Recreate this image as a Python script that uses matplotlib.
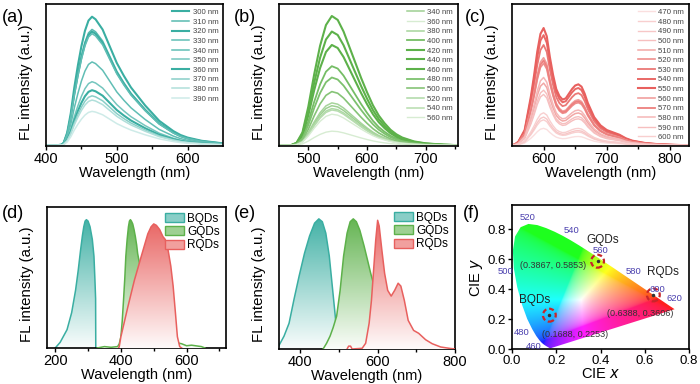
import numpy as np
import matplotlib
matplotlib.use('Agg')
import matplotlib.pyplot as plt
from matplotlib.patches import Polygon, Patch, Ellipse
from matplotlib.colors import to_rgb

plt.rcParams['font.family'] = ['Liberation Sans', 'DejaVu Sans']

# ---------------- data ----------------
# (a) blue emission, shared normalised profile + peak heights
a_wl = [400, 415, 422, 425, 430, 435, 440, 445, 450, 455, 460, 465, 470, 480, 490, 500,
        510, 520, 530, 540, 550, 560, 570, 580, 590, 600, 620, 650]
a_prof = [0.0, 0.0, 0.005, 0.02, 0.1, 0.25, 0.45, 0.62, 0.77, 0.89, 0.97, 1.0, 0.98, 0.9,
          0.77, 0.64, 0.54, 0.45, 0.38, 0.31, 0.25, 0.19, 0.15, 0.11, 0.08, 0.06, 0.035, 0.015]
a_ex = ['300 nm', '310 nm', '320 nm', '330 nm', '340 nm', '350 nm', '360 nm', '370 nm', '380 nm', '390 nm']
a_peak = [0.91, 0.82, 0.805, 0.79, 0.59, 0.45, 0.39, 0.35, 0.32, 0.24]

# (b) green emission
b_wl = [450, 470, 480, 490, 500, 510, 520, 530, 540, 550, 560, 570, 580, 590, 600, 610,
        620, 630, 640, 650, 660, 680, 700, 730, 760]
b_prof = [0.0, 0.0, 0.02, 0.1, 0.3, 0.55, 0.77, 0.93, 1.0, 0.97, 0.88, 0.76, 0.64, 0.52,
          0.41, 0.31, 0.23, 0.17, 0.12, 0.085, 0.06, 0.03, 0.015, 0.005, 0.0]
b_ex = ['340 nm', '360 nm', '380 nm', '400 nm', '420 nm', '440 nm', '460 nm', '480 nm',
        '500 nm', '520 nm', '540 nm', '560 nm']
b_peak = [0.28, 0.10, 0.30, 0.56, 0.71, 0.915, 0.805, 0.48, 0.38, 0.26, 0.25, 0.22]

# (c) red emission
c_wl = [550, 555, 560, 570, 580, 585, 590, 595, 600, 605, 610, 615, 620, 625, 630, 635, 640,
        645, 650, 655, 660, 665, 670, 680, 690, 700, 710, 720, 730, 740, 760, 780, 800, 830]
c_prof = [0.0, 0.01, 0.03, 0.13, 0.42, 0.6, 0.8, 0.95, 1.0, 0.93, 0.75, 0.6, 0.48, 0.42,
          0.39, 0.4, 0.44, 0.48, 0.51, 0.52, 0.5, 0.44, 0.36, 0.24, 0.17, 0.13, 0.11, 0.09,
          0.06, 0.04, 0.02, 0.01, 0.005, 0.0]
c_ex = ['470 nm', '480 nm', '490 nm', '500 nm', '510 nm', '520 nm', '530 nm', '540 nm',
        '550 nm', '560 nm', '570 nm', '580 nm', '590 nm', '600 nm']
c_peak = [0.12, 0.18, 0.20, 0.36, 0.44, 0.58, 0.71, 0.78, 0.83, 0.62, 0.60, 0.48, 0.39, 0.23]

# (d) excitation spectra
d_b_wl = [200, 215, 236, 250, 262, 270, 277, 283, 287, 291, 295, 300, 306, 313, 318, 321, 323, 323.5]
d_b_I = [0, 0.04, 0.13, 0.25, 0.41, 0.55, 0.69, 0.8, 0.86, 0.9, 0.91, 0.9, 0.86, 0.77, 0.65, 0.48, 0.35, 0.0]
d_g_wl = [328, 350, 370, 390, 395, 400, 404, 408, 412, 415, 419, 423, 426, 429, 432, 436, 440,
          444, 448, 451, 455, 459, 470, 490, 520, 550, 575, 585, 600, 615, 630, 645, 656]
d_g_I = [0.0, 0.01, 0.005, 0.01, 0.03, 0.08, 0.19, 0.34, 0.5, 0.65, 0.77, 0.86, 0.9, 0.91, 0.9,
         0.88, 0.84, 0.79, 0.73, 0.67, 0.62, 0.58, 0.45, 0.3, 0.15, 0.06, 0.035, 0.03, 0.016,
         0.02, 0.015, 0.01, 0.0]
d_r_wl = [393, 395, 400, 410, 421, 441, 462, 482, 492, 500, 508, 518, 528, 535, 544, 552, 559,
          566, 572, 579, 585]
d_r_I = [0.0, 0.01, 0.08, 0.18, 0.29, 0.48, 0.65, 0.81, 0.86, 0.88, 0.87, 0.84, 0.79, 0.77,
         0.69, 0.58, 0.44, 0.25, 0.08, 0.01, 0.0]

# (e) emission spectra
e_b_wl = [344, 358, 371, 384, 397, 411, 424, 437, 448, 457, 466, 475, 482, 489, 494, 500]
e_b_I = [0.02, 0.09, 0.18, 0.35, 0.51, 0.67, 0.79, 0.88, 0.91, 0.89, 0.81, 0.65, 0.46, 0.27, 0.13, 0.0]
e_g_wl = [459, 468, 477, 485, 494, 503, 512, 521, 529, 537, 545, 554, 565, 574, 582, 589, 600,
          615, 630, 650, 670]
e_g_I = [0.0, 0.04, 0.09, 0.15, 0.23, 0.41, 0.65, 0.81, 0.89, 0.91, 0.89, 0.83, 0.72, 0.62,
         0.53, 0.46, 0.35, 0.2, 0.1, 0.03, 0.0]
e_r_wl = [521, 525, 530, 534, 560, 569, 578, 584, 589, 595, 600, 604, 611, 618, 626, 635, 644,
          653, 660, 669, 679, 693, 706, 724, 741, 763, 785, 800]
e_r_I = [0.0, 0.02, 0.02, 0.0, 0.005, 0.04, 0.18, 0.34, 0.53, 0.76, 0.9, 0.86, 0.69, 0.53,
         0.41, 0.37, 0.41, 0.46, 0.44, 0.34, 0.2, 0.13, 0.11, 0.065, 0.037, 0.014, 0.005, 0.0]
qd_names = ['BQDs', 'GQDs', 'RQDs']

# (f) CIE 1931 spectral locus and sample points
locus_x = [0.1741, 0.1740, 0.1738, 0.1736, 0.1733, 0.1730, 0.1726, 0.1721, 0.1714, 0.1703,
           0.1689, 0.1669, 0.1644, 0.1611, 0.1566, 0.1510, 0.1440, 0.1355, 0.1241, 0.1096,
           0.0913, 0.0687, 0.0454, 0.0235, 0.0082, 0.0039, 0.0139, 0.0389, 0.0743, 0.1142,
           0.1547, 0.1929, 0.2296, 0.2658, 0.3016, 0.3373, 0.3731, 0.4087, 0.4441, 0.4788,
           0.5125, 0.5448, 0.5752, 0.6029, 0.6270, 0.6482, 0.6658, 0.6801, 0.6915, 0.7006,
           0.7079, 0.7190, 0.7260, 0.7300, 0.7334, 0.7347]
locus_y = [0.0050, 0.0050, 0.0049, 0.0049, 0.0048, 0.0048, 0.0048, 0.0048, 0.0051, 0.0058,
           0.0069, 0.0086, 0.0109, 0.0138, 0.0177, 0.0227, 0.0297, 0.0399, 0.0578, 0.0868,
           0.1327, 0.2007, 0.2950, 0.4127, 0.5384, 0.6548, 0.7502, 0.8120, 0.8338, 0.8262,
           0.8059, 0.7816, 0.7543, 0.7243, 0.6923, 0.6589, 0.6245, 0.5896, 0.5547, 0.5202,
           0.4866, 0.4544, 0.4242, 0.3965, 0.3725, 0.3514, 0.3340, 0.3197, 0.3083, 0.2993,
           0.2920, 0.2809, 0.2740, 0.2700, 0.2666, 0.2653]
wl_labels = ['520', '540', '560', '580', '600', '620', '500', '480', '460']
wl_lab_x = [0.07, 0.27, 0.40, 0.55, 0.655, 0.735, -0.03, 0.045, 0.10]
wl_lab_y = [0.875, 0.79, 0.655, 0.52, 0.40, 0.335, 0.52, 0.11, 0.018]
cie_x = [0.1688, 0.3867, 0.6388]
cie_y = [0.2253, 0.5853, 0.3606]
cie_txt = ['(0.1688, 0.2253)', '(0.3867, 0.5853)', '(0.6388, 0.3606)']
cie_txt_x = [0.285, 0.185, 0.58]
cie_txt_y = [0.095, 0.555, 0.24]
name_x = [0.10, 0.41, 0.68]
name_y = [0.33, 0.73, 0.51]

teal = '#3aaea2'
green = '#5db14a'
red = '#e8605e'


def mix(c, f):
    r = np.array(to_rgb(c))
    return tuple(1 - f * (1 - r))


def add_ax(l, t, r, b):
    return fig.add_axes([l / 700, 1 - b / 384, (r - l) / 700, (b - t) / 384])


def style(ax, xlim, major, minor, ly=0.5):
    ax.set_xlim(*xlim)
    ax.set_xticks(major)
    ax.set_xticks(minor, minor=True)
    ax.set_yticks([])
    ax.tick_params(axis='x', which='major', direction='out', length=3, width=1, labelsize=10.5, pad=1.5)
    ax.tick_params(axis='x', which='minor', direction='out', length=2.5, width=1)
    for s in ax.spines.values():
        s.set_linewidth(1.2)
    ax.set_xlabel('Wavelength (nm)', fontsize=10.5, labelpad=-0.5)
    ax.set_ylabel('FL intensity (a.u.)', fontsize=10.8)
    ax.yaxis.set_label_coords(-0.075, ly)


def line_panel(ax, wl, prof, peaks, names, col, fac, lws):
    for p, n, f, lw in zip(peaks, names, fac, lws):
        ax.plot(wl, np.array(prof) * p, color=mix(col, f), lw=lw, label=n)
    ax.set_ylim(-0.005, 1)
    leg = ax.legend(loc='upper right', fontsize=5.6, frameon=False, handlelength=2.2,
                    labelspacing=0.28, borderaxespad=0.2, handletextpad=0.4)
    for t in leg.get_texts():
        t.set_color('#444444')


def grad_fill(ax, x, y, col, z):
    x = np.array(x, float)
    y = np.array(y, float)
    verts = np.column_stack([np.r_[x[0], x, x[-1]], np.r_[0, y, 0]])
    poly = Polygon(verts, closed=True, facecolor='none', edgecolor='none')
    ax.add_patch(poly)
    f = np.linspace(0.03, 0.95, 200)
    img = np.ones((200, 1, 3)) - f[:, None, None] * (1 - np.array(to_rgb(col)))[None, None, :]
    im = ax.imshow(img, extent=[x.min(), x.max(), 0, y.max()], origin='lower',
                   aspect='auto', zorder=z, interpolation='bilinear')
    im.set_clip_path(poly)
    ax.plot(x, y, color=col, lw=1.1, zorder=z + 0.5)


fig = plt.figure(figsize=(7, 3.84), dpi=100)

# (a)
ax = add_ax(46, 4, 223, 146)
line_panel(ax, a_wl, a_prof, a_peak, a_ex, teal,
           [1.0, 0.85, 1.0, 0.8, 0.8, 0.7, 1.0, 0.6, 0.4, 0.25],
           [1.5, 1.1, 1.5, 1.1, 1.1, 1.1, 1.5, 1.1, 1.1, 1.1])
style(ax, (400, 650), [400, 500, 600], [450, 550], ly=0.45)

# (b)
ax = add_ax(279, 4, 458, 146)
line_panel(ax, b_wl, b_prof, b_peak, b_ex, green,
           [0.6, 0.25, 0.55, 0.85, 1.0, 1.0, 1.0, 0.8, 0.75, 0.5, 0.45, 0.25],
           [1.1, 1.0, 1.1, 1.3, 1.5, 1.5, 1.5, 1.3, 1.2, 1.1, 1.1, 1.0])
style(ax, (450, 755), [500, 600, 700], [550, 650, 750], ly=0.45)

# (c)
ax = add_ax(512, 4, 689, 146)
line_panel(ax, c_wl, c_prof, c_peak, c_ex, red,
           [0.2, 0.3, 0.35, 0.4, 0.55, 0.7, 0.85, 0.95, 1.0, 0.6, 0.8, 0.45, 0.4, 0.3],
           [1.0, 1.0, 1.0, 1.0, 1.1, 1.2, 1.3, 1.4, 1.5, 1.2, 1.3, 1.1, 1.0, 1.0])
style(ax, (550, 830), [600, 700, 800], [650, 750], ly=0.45)

# (d)
ax = add_ax(47, 207, 226, 348)
grad_fill(ax, d_b_wl, d_b_I, teal, 2)
grad_fill(ax, d_g_wl, d_g_I, green, 3)
grad_fill(ax, d_r_wl, d_r_I, red, 4)
ax.set_ylim(0, 1)
style(ax, (175, 720), [200, 400, 600], [300, 500, 700], ly=0.45)
hd = [Patch(facecolor=mix(c, 0.6), edgecolor=c, lw=1) for c in (teal, green, red)]
ax.legend(hd, qd_names, loc='upper right', fontsize=8.5, frameon=False, handlelength=1.6,
          handleheight=0.8, labelspacing=0.1, borderaxespad=0.1, handletextpad=0.3)

# (e)
ax = add_ax(279, 206, 455, 349)
grad_fill(ax, e_b_wl, e_b_I, teal, 2)
grad_fill(ax, e_g_wl, e_g_I, green, 3)
grad_fill(ax, e_r_wl, e_r_I, red, 4)
ax.set_ylim(0, 1)
style(ax, (345, 800), [400, 600, 800], [500, 700], ly=0.45)
hd = [Patch(facecolor=mix(c, 0.6), edgecolor=c, lw=1) for c in (teal, green, red)]
ax.legend(hd, qd_names, loc='upper right', fontsize=8.5, frameon=False, handlelength=1.6,
          handleheight=0.8, labelspacing=0.1, borderaxespad=0.1, handletextpad=0.3)

# (f) CIE diagram
ax = add_ax(512, 205, 689, 349)
gx, gy = np.meshgrid(np.linspace(0.0, 0.8, 400), np.linspace(0.001, 0.9, 400))
X = gx / gy
Z = (1 - gx - gy) / gy
R = 3.2406 * X - 1.5372 - 0.4986 * Z
G = -0.9689 * X + 1.8758 + 0.0415 * Z
B = 0.0557 * X - 0.2040 + 1.0570 * Z
rgb = np.clip(np.dstack([R, G, B]), 0, None)
rgb = rgb / rgb.max(axis=2, keepdims=True)
rgb = rgb ** (1 / 2.2)
rgb = 1 - 0.88 * (1 - rgb)
horse = Polygon(np.column_stack([locus_x, locus_y]), closed=True, facecolor='none', edgecolor='none')
ax.add_patch(horse)
im = ax.imshow(rgb, extent=[0, 0.8, 0.001, 0.9], origin='lower', aspect='auto', interpolation='bilinear')
im.set_clip_path(horse)
ax.set_xlim(0, 0.8)
ax.set_ylim(0, 0.96)
for t, x, y in zip(wl_labels, wl_lab_x, wl_lab_y):
    ax.text(x, y, t, color='#4a3fae', fontsize=6.8, ha='center', va='center', clip_on=False, zorder=7)
for px, py, t, tx, ty, nm, nx, ny in zip(cie_x, cie_y, cie_txt, cie_txt_x, cie_txt_y, qd_names, name_x, name_y):
    ax.add_patch(Ellipse((px, py), 0.058, 0.086, fill=False, ec='#c8262a', lw=1.6,
                         ls=(0, (2.2, 1.3)), zorder=5))
    ax.plot(px, py, 'o', color='#333333', ms=1.5, zorder=6)
    ax.text(tx, ty, t, fontsize=6.5, color='#333333', ha='center', va='center', zorder=6)
    ax.text(nx, ny, nm, fontsize=8.5, color='#222222', ha='center', va='center', zorder=6)
ax.set_xticks([0.0, 0.2, 0.4, 0.6, 0.8])
ax.set_yticks([0.0, 0.2, 0.4, 0.6, 0.8])
ax.set_xticklabels(['0.0', '0.2', '0.4', '0.6', '0.8'])
ax.set_yticklabels(['0.0', '0.2', '0.4', '0.6', '0.8'])
ax.tick_params(direction='out', length=3, width=1, labelsize=9.5, pad=1.5)
for s in ax.spines.values():
    s.set_linewidth(1.2)
ax.set_xlabel('CIE $\\it{x}$', fontsize=10.5, labelpad=-0.5)
ax.set_ylabel('CIE $\\it{y}$', fontsize=10.5, labelpad=2)

for lab, x, y in [('(a)', 2, 17), ('(b)', 234, 17), ('(c)', 465, 17),
                  ('(d)', 2, 214), ('(e)', 234, 214), ('(f)', 463, 214)]:
    fig.text(x / 700, 1 - y / 384, lab, fontsize=13, ha='left', va='center')

fig.savefig('out.png', dpi=100)
